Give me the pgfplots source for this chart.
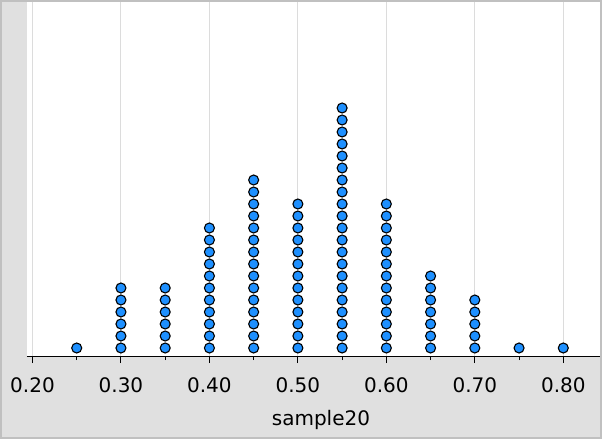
\documentclass[border=0pt]{standalone}
\usepackage{pgfplots}
\pgfplotsset{compat=1.18}
\usepackage{fontspec}
\setmainfont{DejaVu Sans}
\definecolor{bordergray}{HTML}{C0C0C0}
\definecolor{panelgray}{HTML}{E0E0E0}
\definecolor{gridgray}{HTML}{DCDCDC}
\definecolor{dotblue}{HTML}{1E90FF}
\begin{document}
\begin{tikzpicture}[x=1pt,y=1pt]
\fill[bordergray] (0,0) rectangle (602,439);
\fill[panelgray] (2,2) rectangle (600,437);
\begin{axis}[
  at={(27pt,83pt)}, anchor=south west,
  width=573pt, height=354pt, scale only axis,
  axis background/.style={fill=white},
  xmin=0.1938, xmax=0.8415, ymin=0.3333, ymax=29.833,
  axis x line=bottom, axis y line=none,
  x axis line style={-, black, line width=1pt},
  xtick={0.2,0.3,0.4,0.5,0.6,0.7,0.8},
  minor xtick={0.25,0.35,0.45,0.55,0.65,0.75},
  tick align=outside,
  major tick length=7pt, minor tick length=4pt,
  every tick/.style={black, line width=1pt},
  xmajorgrids, major grid style={gridgray, line width=1pt},
  /pgf/number format/assume math mode=true,
  xticklabel={\pgfmathprintnumber[fixed,fixed zerofill,precision=2]{\tick}},
  xticklabel style={anchor=base, yshift=-29pt, font=\fontsize{20}{24}\selectfont},
  xlabel={sample20},
  xlabel style={at={(axis description cs:0.513,0)}, anchor=base, yshift=-69pt, font=\fontsize{20}{24}\selectfont},
  clip=false,
]
\addplot[only marks, mark=*, mark size=5pt, mark options={fill=dotblue, draw=black, line width=1.1pt}]
coordinates {
(0.25,1)
(0.30,1)(0.30,2)(0.30,3)(0.30,4)(0.30,5)(0.30,6)
(0.35,1)(0.35,2)(0.35,3)(0.35,4)(0.35,5)(0.35,6)
(0.40,1)(0.40,2)(0.40,3)(0.40,4)(0.40,5)(0.40,6)(0.40,7)(0.40,8)(0.40,9)(0.40,10)(0.40,11)
(0.45,1)(0.45,2)(0.45,3)(0.45,4)(0.45,5)(0.45,6)(0.45,7)(0.45,8)(0.45,9)(0.45,10)(0.45,11)(0.45,12)(0.45,13)(0.45,14)(0.45,15)
(0.50,1)(0.50,2)(0.50,3)(0.50,4)(0.50,5)(0.50,6)(0.50,7)(0.50,8)(0.50,9)(0.50,10)(0.50,11)(0.50,12)(0.50,13)
(0.55,1)(0.55,2)(0.55,3)(0.55,4)(0.55,5)(0.55,6)(0.55,7)(0.55,8)(0.55,9)(0.55,10)(0.55,11)(0.55,12)(0.55,13)(0.55,14)(0.55,15)(0.55,16)(0.55,17)(0.55,18)(0.55,19)(0.55,20)(0.55,21)
(0.60,1)(0.60,2)(0.60,3)(0.60,4)(0.60,5)(0.60,6)(0.60,7)(0.60,8)(0.60,9)(0.60,10)(0.60,11)(0.60,12)(0.60,13)
(0.65,1)(0.65,2)(0.65,3)(0.65,4)(0.65,5)(0.65,6)(0.65,7)
(0.70,1)(0.70,2)(0.70,3)(0.70,4)(0.70,5)
(0.75,1)
(0.80,1)
};
\end{axis}
\end{tikzpicture}
\end{document}
